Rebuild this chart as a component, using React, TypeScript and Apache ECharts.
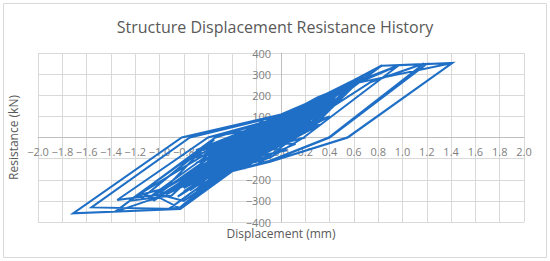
import React, { useEffect, useRef } from "react";
import * as echarts from "echarts";

const chartTitle = "Structure Displacement Resistance History";
const xAxisName = "Displacement (mm)";
const yAxisName = "Resistance (kN)";

// Displacement (mm) of each recorded point, in load-history order
const displacement = [
  0,
  0.12, -0.16, -0.18, 0.11,
  0.2, -0.15, -0.22, -0.28, 0.05, 0.12,
  0.28, -0.13, -0.26, -0.35, 0.0, 0.15,
  0.35, -0.1, -0.3, -0.42, -0.05, 0.18,
  0.42, -0.1, -0.3, -0.47, -0.07, 0.15,
  0.48, -0.07, -0.32, -0.53, -0.06, 0.2,
  0.55, -0.06, -0.35, -0.58, -0.05, 0.22,
  0.62, -0.04, -0.38, -0.65, -0.04, 0.25,
  0.7, -0.02, -0.25, -0.72, -0.03, 0.28,
  0.3, -0.55, 0.2, -0.7, 0.4, -0.45, 0.1, -0.6, 0.35, -0.75,
  0.25, -0.5, 0.45, -0.65, 0.15, -0.4, 0.32, -0.55, 0.05, -0.7,
  0.38, -0.35, 0.2, -0.6, 0.28, -0.8, 0.12, -0.45, 0.42, -0.3,
  0.0, -0.62, 0.22, -0.5, 0.48, -0.72, 0.05, -0.38, 0.35,
  -0.85, 0.3, -0.75, 0.1, -0.9, 0.45, -0.7, 0.2, -0.8, 0.0, -0.6, 0.35, -0.95, 0.15, -0.65, -0.05,
  -0.55, 0.4, -0.7, 0.25, -0.5, 0.5, -0.75, 0.05, -0.6, 0.3, -0.45, -0.1, -0.85, 0.2, -0.65, 0.4,
  -0.8, 0.5, -0.55, 0.1, -0.85, 0.4, -0.75, 0.15, -0.9, 0.3, -0.45, 0.0, -0.95, 0.4, -0.5, 0.2,
  -0.75, -0.05, -0.65, 0.2, -0.6, 0.3, -0.6, 0.25, -0.65, 0.45, -0.85, 0.05, -0.7, 0.35, -0.7, -0.1,
  -0.6, 0.05, -0.55, 0.0, -0.7, -0.05, -0.5, 0.1, -0.65, -0.1, -0.4, 0.15, -0.75, -0.2,
  -0.35, 0.05, -0.6, -0.15, -0.45, 0.1, -0.8, -0.25, -0.5, 0.0, -0.55, -0.1,
  0.833, 0.02, -0.2, -0.55, -0.831, -0.02, 0.24, 0.6,
  0.97, 0.187, -0.09, -0.47, -0.83, -0.927,
  -0.3, -1.0, -0.35, -1.1, -0.45, -1.2, -1.05, -1.15, -0.95, -1.0, -0.5, -0.9,
  -1.25, -0.55, -1.15, -0.62, -1.05, -0.5,
  -0.1, 0.3, 0.74,
  1.177, 0.393, -0.09, -0.47, -0.83, -1.0, -1.1, -1.367, -0.54, 0.0, 0.6,
  1.411, 0.545, -0.09, -0.47, -0.83, -1.56, -0.75, 0.0, 0.6, 0.833,
  1.2, 0.4, -0.09, -0.47, -0.8, -1.0, -1.348, -0.6, 0.0, 0.3, 0.6, 0.97,
  1.411, 0.55, -0.09, -0.47, -0.83, -1.711, -0.817, 0.0, 0.24, 0.6, 0.833,
];

// Resistance (kN) of each recorded point
const resistance = [
  0,
  118, 0, -122, 0,
  150, 0, -60, -138, 0, 62,
  172, 5, -50, -150, 0, 50,
  195, 20, -40, -162, -10, 40,
  218, 0, -30, -169, 0, 33,
  232, 0, -38, -198, 0, 40,
  258, 0, -45, -222, 0, 42,
  278, 0, -55, -255, 0, 45,
  300, 0, -38, -290, 0, 50,
  180, -190, 120, -250, 170, -120, 60, -140, 120, -200,
  40, -60, 210, -90, 100, -155, 60, -30, 110, -60,
  95, -80, 0, -100, 140, -255, -30, -30, 140, -140,
  30, -220, 80, 10, 180, -150, -60, -40, 150,
  -280, 170, -250, 120, -240, 200, -200, 80, -180, 60, -210, 140, -270, 30, -160, 95,
  -190, 100, -120, 110, -170, 220, -100, 0, -90, 60, -160, 70, -220, 140, -60, 190,
  -180, 220, -190, 120, -280, 190, -100, 30, -240, 60, -160, 60, -270, 100, -170, 140,
  -250, 95, -60, 80, -210, 170, -90, 110, -160, 200, -220, 0, -120, 140, -200, 70,
  -200, 100, -150, 30, -180, 40, -100, 90, -230, 20, -130, 110, -220, -20,
  -100, 60, -120, 80, -180, 40, -240, 40, -140, -20, -60, -60,
  342, 0, -40, -205, -339, 0, 55, 250,
  342, 0, -95, -160, -330, -340,
  -80, -275, -40, -290, -20, -280, -255, -270, -240, -262, -60, -275,
  -300, -10, -290, -40, -300, -80,
  0, 100, 263,
  350, 0, -110, -169, -335, -285, -300, -352, 0, 95, 255,
  353, 0, -115, -169, -339, -331, 0, 105, 265, 340,
  348, 0, -112, -169, -300, -270, -296, 0, 95, 190, 260, 342,
  353, 0, -115, -169, -339, -359, 0, 109, 168, 271, 342,
];

const minus = (v: number, dec: number) =>
  (v < 0 ? "\u2212" : "") + Math.abs(v).toFixed(dec);

const GRID = { left: 38, right: 26, top: 53, bottom: 39 };
const W = 550;
const H = 261;

export default function App() {
  const ref = useRef<HTMLDivElement>(null);
  useEffect(() => {
    const chart = echarts.init(ref.current!, null, { renderer: "svg" });
    const data = displacement.map((d, i) => [d, resistance[i]]);
    const font = "Open Sans";
    const gw = W - GRID.left - GRID.right;
    const gh = H - GRID.top - GRID.bottom;
    chart.setOption({
      animation: false,
      backgroundColor: "#ffffff",
      title: {
        text: chartTitle,
        left: "center",
        top: 14,
        textStyle: { fontFamily: font, fontSize: 16, fontWeight: "normal", color: "#595959" },
      },
      grid: GRID,
      xAxis: {
        type: "value",
        min: -2,
        max: 2,
        interval: 0.2,
        position: "bottom",
        offset: -gh / 2,
        axisLine: { show: true, onZero: false, lineStyle: { color: "#bfbfbf", width: 1 } },
        axisTick: { show: false },
        axisLabel: {
          formatter: (v: number) => minus(v, 1),
          color: "#7f7f7f",
          fontFamily: font,
          fontSize: 11,
          margin: 8,
        },
        splitLine: { show: true, lineStyle: { color: "#d9d9d9", width: 1 } },
      },
      yAxis: {
        type: "value",
        min: -400,
        max: 400,
        interval: 100,
        position: "left",
        offset: -gw / 2,
        axisLine: { show: true, onZero: false, lineStyle: { color: "#bfbfbf", width: 1 } },
        axisTick: { show: false },
        axisLabel: {
          formatter: (v: number) => minus(v, 0),
          color: "#7f7f7f",
          fontFamily: font,
          fontSize: 11,
          margin: 10,
        },
        splitLine: { show: true, lineStyle: { color: "#d9d9d9", width: 1 } },
      },
      graphic: [
        {
          type: "rect",
          shape: { x: 3.5, y: 3.5, width: 543, height: 254 },
          style: { fill: "none", stroke: "#d9d9d9", lineWidth: 1 },
          silent: true,
          z: -10,
        },
        {
          type: "text",
          x: 281,
          y: 233,
          style: {
            text: xAxisName,
            align: "center",
            verticalAlign: "middle",
            fill: "#595959",
            fontFamily: font,
            fontSize: 12,
          },
        },
        {
          type: "text",
          x: 13,
          y: 137.5,
          rotation: Math.PI / 2,
          style: {
            text: yAxisName,
            align: "center",
            verticalAlign: "middle",
            fill: "#595959",
            fontFamily: font,
            fontSize: 12,
          },
        },
      ],
      series: [
        {
          type: "line",
          data,
          showSymbol: false,
          symbol: "none",
          lineStyle: { color: "#1f6fc6", width: 2, join: "miter" },
          itemStyle: { color: "#1f6fc6" },
          z: 5,
        },
      ],
    });
    return () => chart.dispose();
  }, []);
  return (
    <div
      ref={ref}
      style={{ position: "fixed", left: 0, top: 0, width: W, height: H }}
    />
  );
}
